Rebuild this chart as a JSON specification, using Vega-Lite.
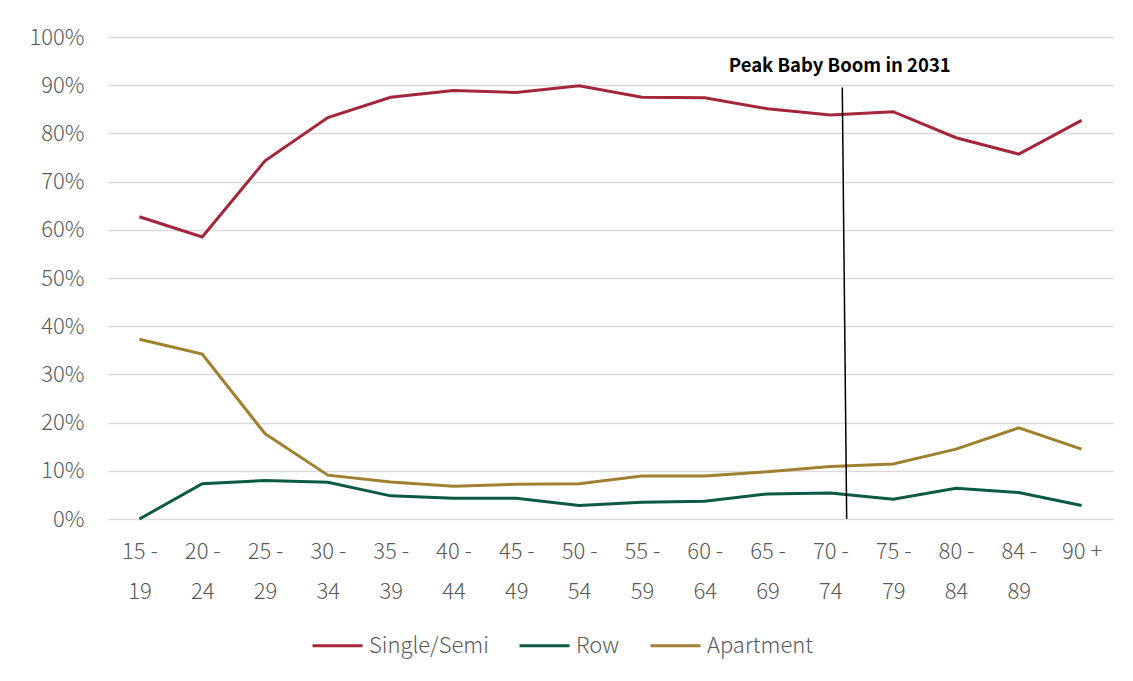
{
  "$schema": "https://vega.github.io/schema/vega-lite/v6.json",
  "width": 1005,
  "height": 482,
  "autosize": {"type": "none"},
  "padding": {"left": 108, "top": 37, "right": 20, "bottom": 162},
  "background": "white",
  "config": {
    "font": "Noto Sans CJK JP",
    "view": {"stroke": null}
  },
  "datasets": {
    "shares": [
      {"age": "15 - 19", "type": "Single/Semi", "value": 0.627},
      {"age": "20 - 24", "type": "Single/Semi", "value": 0.585},
      {"age": "25 - 29", "type": "Single/Semi", "value": 0.743},
      {"age": "30 - 34", "type": "Single/Semi", "value": 0.833},
      {"age": "35 - 39", "type": "Single/Semi", "value": 0.875},
      {"age": "40 - 44", "type": "Single/Semi", "value": 0.889},
      {"age": "45 - 49", "type": "Single/Semi", "value": 0.885},
      {"age": "50 - 54", "type": "Single/Semi", "value": 0.899},
      {"age": "55 - 59", "type": "Single/Semi", "value": 0.875},
      {"age": "60 - 64", "type": "Single/Semi", "value": 0.874},
      {"age": "65 - 69", "type": "Single/Semi", "value": 0.851},
      {"age": "70 - 74", "type": "Single/Semi", "value": 0.838},
      {"age": "75 - 79", "type": "Single/Semi", "value": 0.845},
      {"age": "80 - 84", "type": "Single/Semi", "value": 0.791},
      {"age": "84 - 89", "type": "Single/Semi", "value": 0.757},
      {"age": "90 +", "type": "Single/Semi", "value": 0.827},
      {"age": "15 - 19", "type": "Row", "value": 0.0},
      {"age": "20 - 24", "type": "Row", "value": 0.073},
      {"age": "25 - 29", "type": "Row", "value": 0.08},
      {"age": "30 - 34", "type": "Row", "value": 0.076},
      {"age": "35 - 39", "type": "Row", "value": 0.048},
      {"age": "40 - 44", "type": "Row", "value": 0.043},
      {"age": "45 - 49", "type": "Row", "value": 0.043},
      {"age": "50 - 54", "type": "Row", "value": 0.028},
      {"age": "55 - 59", "type": "Row", "value": 0.035},
      {"age": "60 - 64", "type": "Row", "value": 0.037},
      {"age": "65 - 69", "type": "Row", "value": 0.052},
      {"age": "70 - 74", "type": "Row", "value": 0.054},
      {"age": "75 - 79", "type": "Row", "value": 0.041},
      {"age": "80 - 84", "type": "Row", "value": 0.064},
      {"age": "84 - 89", "type": "Row", "value": 0.055},
      {"age": "90 +", "type": "Row", "value": 0.028},
      {"age": "15 - 19", "type": "Apartment", "value": 0.373},
      {"age": "20 - 24", "type": "Apartment", "value": 0.342},
      {"age": "25 - 29", "type": "Apartment", "value": 0.177},
      {"age": "30 - 34", "type": "Apartment", "value": 0.091},
      {"age": "35 - 39", "type": "Apartment", "value": 0.077},
      {"age": "40 - 44", "type": "Apartment", "value": 0.068},
      {"age": "45 - 49", "type": "Apartment", "value": 0.072},
      {"age": "50 - 54", "type": "Apartment", "value": 0.073},
      {"age": "55 - 59", "type": "Apartment", "value": 0.089},
      {"age": "60 - 64", "type": "Apartment", "value": 0.089},
      {"age": "65 - 69", "type": "Apartment", "value": 0.098},
      {"age": "70 - 74", "type": "Apartment", "value": 0.109},
      {"age": "75 - 79", "type": "Apartment", "value": 0.114},
      {"age": "80 - 84", "type": "Apartment", "value": 0.145},
      {"age": "84 - 89", "type": "Apartment", "value": 0.189},
      {"age": "90 +", "type": "Apartment", "value": 0.145}
    ],
    "marker": [
      {"pos": 11.69, "pos2": 11.76, "top": 0.895, "bottom": 0, "label": "Peak Baby Boom in 2031", "labelPos": 11.65, "labelY": 0.94}
    ]
  },
  "layer": [
    {
      "data": {"name": "shares"},
      "mark": {"type": "line", "strokeWidth": 3},
      "encoding": {
        "x": {
          "field": "age",
          "type": "ordinal",
          "sort": null,
          "scale": {"type": "point", "padding": 0.5},
          "axis": {
            "title": null,
            "domain": false,
            "ticks": false,
            "labelAngle": 0,
            "labelFontSize": 22,
            "labelFontWeight": 300,
            "labelColor": "#595959",
            "labelPadding": 22,
            "labelLineHeight": 40,
            "labelBaseline": "top",
            "labelExpr": "[slice(datum.value, 0, 4), slice(datum.value, 5)]"
          }
        },
        "y": {
          "field": "value",
          "type": "quantitative",
          "scale": {"domain": [0, 1], "nice": false},
          "axis": {
            "title": null,
            "values": [0, 0.1, 0.2, 0.3, 0.4, 0.5, 0.6, 0.7, 0.8, 0.9, 1],
            "format": ".0%",
            "domain": false,
            "ticks": false,
            "labelFontSize": 22,
            "labelFontWeight": 300,
            "labelColor": "#595959",
            "labelPadding": 24,
            "gridColor": "#d9d9d9",
            "gridWidth": 1.5
          }
        },
        "color": {
          "field": "type",
          "type": "nominal",
          "sort": ["Single/Semi", "Row", "Apartment"],
          "scale": {
            "domain": ["Single/Semi", "Row", "Apartment"],
            "range": ["#a3263a", "#0c5a45", "#a08030"]
          },
          "legend": {
            "title": null,
            "orient": "none",
            "direction": "horizontal",
            "legendX": 203,
            "legendY": 582,
            "symbolType": "stroke",
            "symbolSize": 2500,
            "symbolStrokeWidth": 3,
            "labelFontSize": 22,
            "labelFontWeight": 300,
            "labelColor": "#595959",
            "labelOffset": 5,
            "columnPadding": 24
          }
        }
      }
    },
    {
      "data": {"name": "marker"},
      "mark": {"type": "rule", "color": "#000000", "strokeWidth": 1.5},
      "encoding": {
        "x": {"field": "pos", "type": "quantitative", "scale": {"domain": [0, 16], "nice": false, "zero": false}, "axis": null},
        "x2": {"field": "pos2"},
        "y": {"field": "top", "type": "quantitative"},
        "y2": {"field": "bottom"}
      }
    },
    {
      "data": {"name": "marker"},
      "mark": {"type": "text", "fontWeight": "bold", "fontSize": 18.5, "color": "#000000", "align": "center", "baseline": "middle"},
      "encoding": {
        "x": {"field": "labelPos", "type": "quantitative", "scale": {"domain": [0, 16], "nice": false, "zero": false}, "axis": null},
        "y": {"field": "labelY", "type": "quantitative"},
        "text": {"field": "label"}
      }
    }
  ],
  "resolve": {"scale": {"x": "independent"}}
}
